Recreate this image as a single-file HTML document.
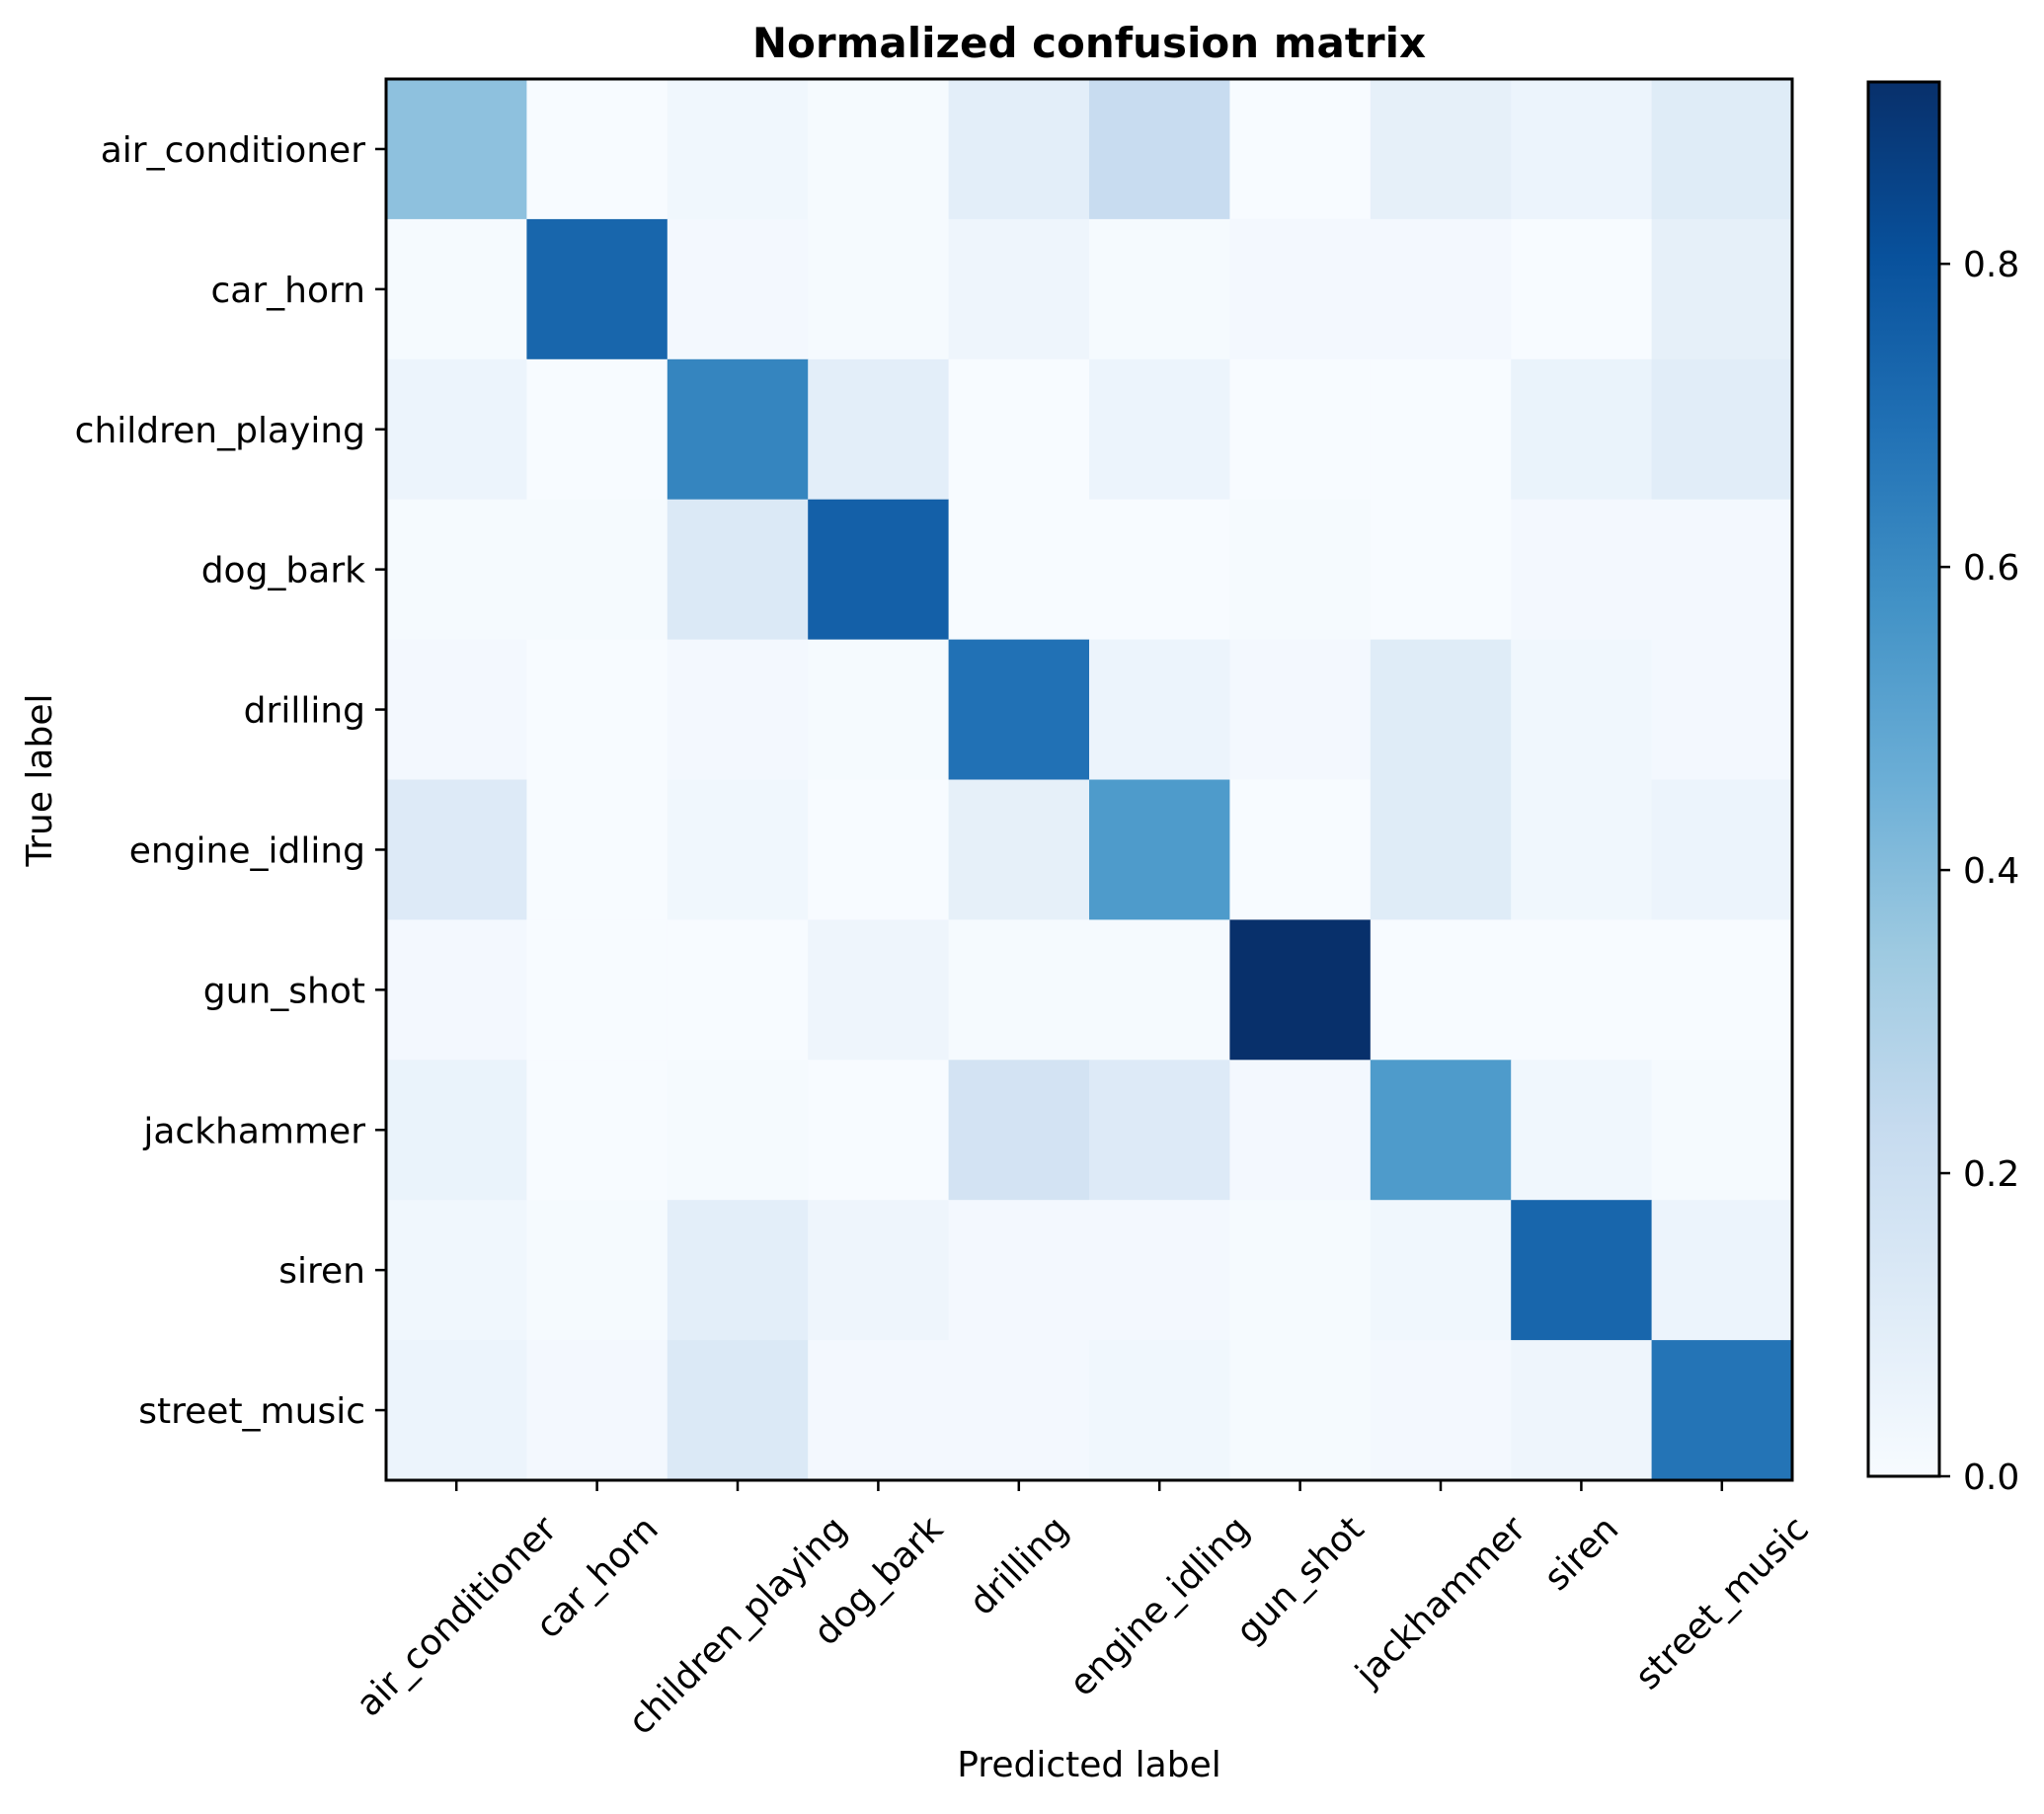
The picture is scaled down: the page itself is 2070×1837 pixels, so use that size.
<!DOCTYPE html>
<html><head><meta charset="utf-8"><style>
html,body{margin:0;padding:0;background:#fff;}
svg text{font-family:"DejaVu Sans","Liberation Sans",sans-serif;fill:#000;}
</style></head><body>
<svg id="chart" width="2070" height="1832" viewBox="0 0 2070 1832" xmlns="http://www.w3.org/2000/svg">
<defs>
<linearGradient id="blues" x1="0" y1="1" x2="0" y2="0">
<stop offset="0" stop-color="#f7fbff"/><stop offset="0.125" stop-color="#deebf7"/><stop offset="0.25" stop-color="#c6dbef"/><stop offset="0.375" stop-color="#9ecae1"/><stop offset="0.5" stop-color="#6baed6"/><stop offset="0.625" stop-color="#4292c6"/><stop offset="0.75" stop-color="#2171b5"/><stop offset="0.875" stop-color="#08519c"/><stop offset="1" stop-color="#08306b"/>
</linearGradient>
</defs>
<text x="1103" y="58" text-anchor="middle" font-size="42" font-weight="bold">Normalized confusion matrix</text>
<g id="cells"></g>
<rect x="391" y="80" width="1424" height="1419" fill="none" stroke="#000" stroke-width="3"/>
<g id="axes"></g>
<text x="1103" y="1799" text-anchor="middle" font-size="36">Predicted label</text>
<text x="0" y="0" transform="translate(52,790) rotate(-90)" text-anchor="middle" font-size="36">True label</text>
<rect x="1892" y="83" width="72" height="1412" fill="url(#blues)" stroke="#000" stroke-width="3"/>
<g id="cbar"></g>
</svg>
<script>
const labels = ["air_conditioner","car_horn","children_playing","dog_bark","drilling","engine_idling","gun_shot","jackhammer","siren","street_music"];
const r0 = [0.38,0.0,0.03,0.01,0.09,0.22,0.0,0.08,0.05,0.11];
const r1 = [0.01,0.73,0.02,0.01,0.04,0.01,0.02,0.02,0.0,0.08];
const r2 = [0.05,0.0,0.62,0.09,0.0,0.05,0.0,0.0,0.06,0.1];
const r3 = [0.01,0.01,0.13,0.75,0.0,0.0,0.01,0.0,0.02,0.02];
const r4 = [0.02,0.0,0.02,0.01,0.69,0.05,0.02,0.11,0.03,0.02];
const r5 = [0.12,0.0,0.03,0.0,0.08,0.54,0.0,0.11,0.03,0.05];
const r6 = [0.02,0.0,0.0,0.04,0.01,0.01,0.92,0.0,0.0,0.0];
const r7 = [0.06,0.0,0.01,0.0,0.17,0.12,0.02,0.54,0.03,0.01];
const r8 = [0.03,0.01,0.09,0.04,0.02,0.02,0.01,0.03,0.73,0.05];
const r9 = [0.05,0.02,0.13,0.02,0.02,0.03,0.01,0.02,0.04,0.68];
const cbTicks = [0.0,0.2,0.4,0.6,0.8];
const cbLabels = ["0.0","0.2","0.4","0.6","0.8"];
const vmax = 0.92;
const rows = [r0,r1,r2,r3,r4,r5,r6,r7,r8,r9];

const NS="http://www.w3.org/2000/svg";
const X0=391,X1=1815,Y0=80,Y1=1499,CB0=83,CB1=1495;
const cw=(X1-X0)/labels.length, ch=(Y1-Y0)/labels.length;
const xs=i=>X0+i*cw, ys=j=>Y0+j*ch;
const cy=v=>CB1-(v/vmax)*(CB1-CB0);
const stops=[[247,251,255],[222,235,247],[198,219,239],[158,202,225],[107,174,214],[66,146,198],[33,113,181],[8,81,156],[8,48,107]];
function color(v){let t=Math.max(0,Math.min(1,v/vmax))*8;let i=Math.min(7,Math.floor(t)),f=t-i;
 const a=stops[i],b=stops[i+1];return `rgb(${a.map((c,k)=>Math.round(c+(b[k]-c)*f)).join(',')})`;}
function mk(tag,attrs,parent){const e=document.createElementNS(NS,tag);for(const k in attrs)e.setAttribute(k,attrs[k]);parent.appendChild(e);return e;}
const cells=document.getElementById('cells'),axes=document.getElementById('axes'),cbar=document.getElementById('cbar');
rows.forEach((row,j)=>row.forEach((v,i)=>{
 const r=mk('rect',{x:xs(i),y:ys(j),width:cw+0.5,height:ch+0.5,fill:color(v)},cells);
 
 
}));
labels.forEach((lab,j)=>{
 const y=ys(j)+ch/2;
 const t=mk('line',{x1:X0-11,x2:X0,y1:y,y2:y,stroke:'#000','stroke-width':2.5},axes);
 
 
 const tx=mk('text',{x:X0-21,y:y+13,'text-anchor':'end','font-size':36},axes);
 tx.textContent=lab;
 
 
});
labels.forEach((lab,i)=>{
 const x=xs(i)+cw/2;
 const t=mk('line',{x1:x,x2:x,y1:Y1,y2:Y1+11,stroke:'#000','stroke-width':2.5},axes);
 
 
 const tx=mk('text',{x:0,y:0,'text-anchor':'middle','font-size':36},axes);
 tx.textContent=lab;
 
 
 const L=tx.getComputedTextLength();
 const h=L*0.7071/2+18;
 tx.setAttribute('transform',`translate(${x},${1524+h}) rotate(-45) translate(0,12)`);
});
cbTicks.forEach((v,k)=>{
 const y=cy(v);
 const t=mk('line',{x1:1964,x2:1975,y1:y,y2:y,stroke:'#000','stroke-width':2.5},cbar);
 
 
 const tx=mk('text',{x:1988,y:y+13,'font-size':36},cbar);
 tx.textContent=cbLabels[k];
 
 
});
</script>
</body></html>
